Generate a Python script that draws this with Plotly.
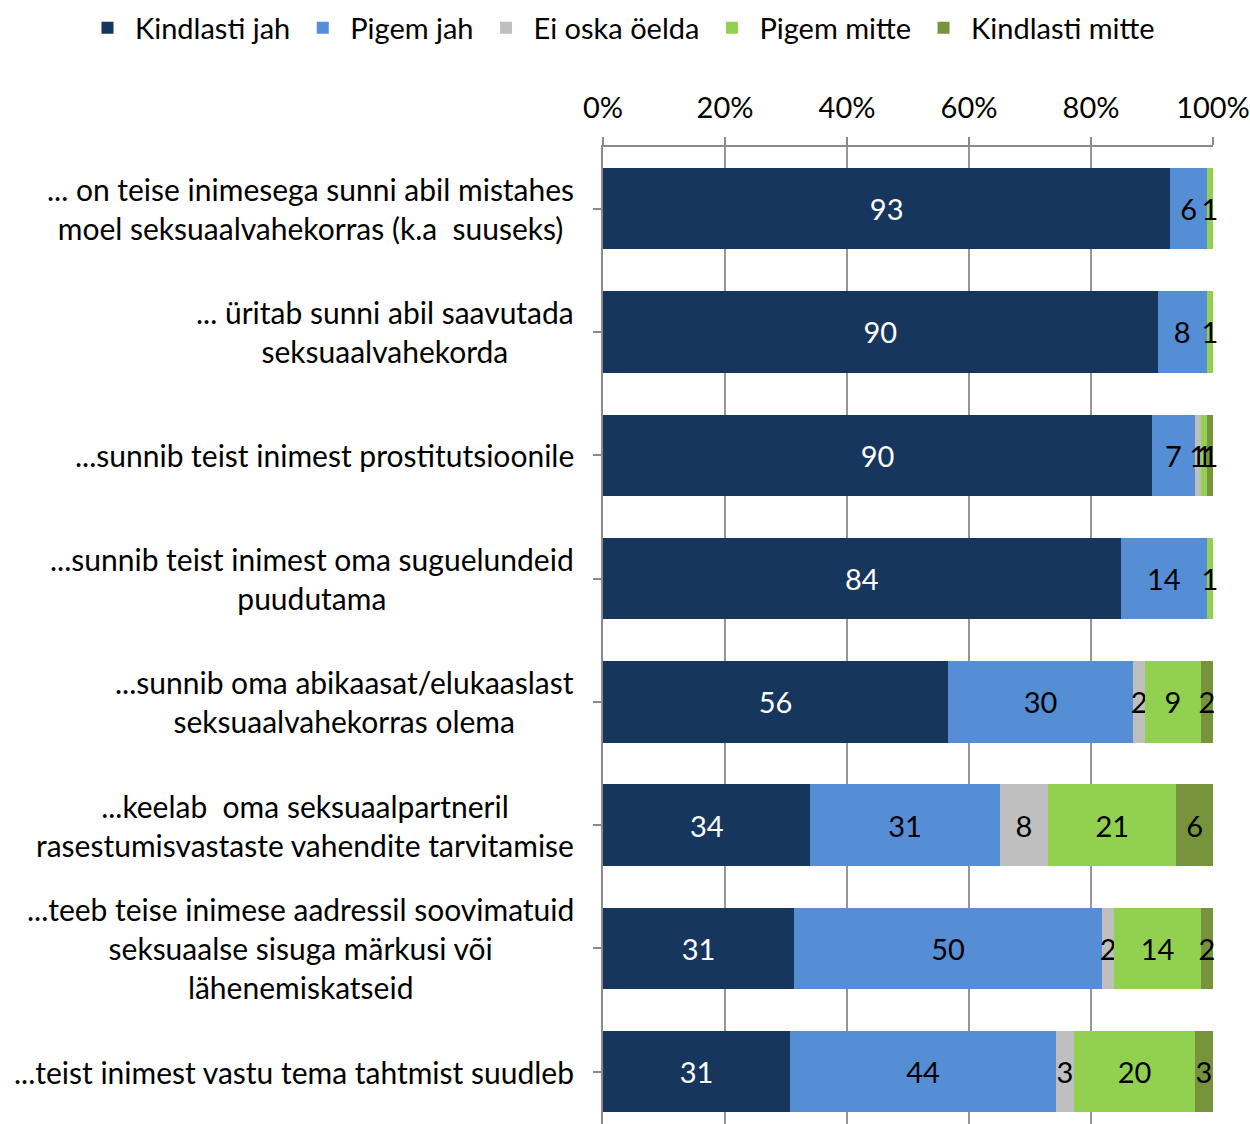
import plotly.graph_objects as go

categories = [
    "... on teise inimesega sunni abil mistahes<br>moel seksuaalvahekorras (k.a  suuseks)",
    "... üritab sunni abil saavutada<br>seksuaalvahekorda",
    "...sunnib teist inimest prostitutsioonile",
    "...sunnib teist inimest oma suguelundeid<br>puudutama",
    "...sunnib oma abikaasat/elukaaslast<br>seksuaalvahekorras olema",
    "...keelab  oma seksuaalpartneril<br>rasestumisvastaste vahendite tarvitamise",
    "...teeb teise inimese aadressil soovimatuid<br>seksuaalse sisuga märkusi või<br>lähenemiskatseid",
    "...teist inimest vastu tema tahtmist suudleb",
]

series_names = ["Kindlasti jah", "Pigem jah", "Ei oska öelda", "Pigem mitte", "Kindlasti mitte"]
kindlasti_jah = [93, 90, 90, 84, 56, 34, 31, 31]
pigem_jah = [6, 8, 7, 14, 30, 31, 50, 44]
ei_oska = [0, 0, 1, 0, 2, 8, 2, 3]
pigem_mitte = [1, 1, 1, 1, 9, 21, 14, 20]
kindlasti_mitte = [0, 0, 1, 0, 2, 6, 2, 3]
series_values = [kindlasti_jah, pigem_jah, ei_oska, pigem_mitte, kindlasti_mitte]

colors = ["#17365D", "#558ED5", "#BFBFBF", "#92D050", "#77933C"]
text_colors = ["white", "black", "black", "black", "black"]
tick_vals = [0, 20, 40, 60, 80, 100]
tick_text = ["0%", "20%", "40%", "60%", "80%", "100%"]

FONT = "Lato"
FS_CAT = 30
FS = 29

idx = list(range(len(categories)))

fig = go.Figure()
for name, vals, col, tcol in zip(series_names, series_values, colors, text_colors):
    fig.add_trace(go.Bar(
        name=name,
        y=idx,
        x=vals,
        orientation="h",
        marker=dict(color=col, line=dict(width=0)),
        text=[str(v) if v else "" for v in vals],
        textposition="inside",
        insidetextanchor="middle",
        textangle=0,
        constraintext="none",
        textfont=dict(color=tcol, size=FS, family=FONT),
        cliponaxis=False,
        hoverinfo="skip",
    ))

for i, cat in enumerate(categories):
    fig.add_annotation(
        x=-0.045, xref="paper", y=i, yref="y",
        text=cat, showarrow=False, xanchor="right", yanchor="middle",
        align="center", font=dict(size=FS_CAT, family=FONT, color="black"),
    )

W, H = 1250, 1124
L, R, T, B = 603, 37, 147, 0
pw = W - L - R
ph = H - T - B
span = ph / 123.3

fig.update_layout(
    width=W, height=H,
    margin=dict(l=L, r=R, t=T, b=B, autoexpand=False),
    barmode="stack",
    barnorm="percent",
    bargap=0.34,
    plot_bgcolor="white",
    paper_bgcolor="white",
    font=dict(family=FONT, size=FS, color="black"),
    uniformtext=dict(mode="show", minsize=FS),
    legend=dict(
        orientation="h", x=(80 - L) / pw, xanchor="left",
        y=1 + (T - 28) / ph, yanchor="middle",
        font=dict(size=FS, family=FONT), traceorder="normal",
        itemclick=False, itemsizing="constant", itemwidth=45,
    ),
    xaxis=dict(
        side="top", range=[0, 100], tickvals=tick_vals, ticktext=tick_text,
        showgrid=True, gridcolor="#969696", gridwidth=2,
        showline=True, linecolor="#8a8a8a", linewidth=2,
        ticks="outside", ticklen=8, tickcolor="#8a8a8a", tickwidth=2,
        ticklabelstandoff=7,
        zeroline=False, fixedrange=True,
        tickfont=dict(size=FS, family=FONT),
    ),
    yaxis=dict(
        range=[-0.5 + span, -0.5],
        tickvals=idx, showticklabels=False,
        tickson="boundaries", ticks="outside", ticklen=8,
        tickcolor="#8a8a8a", tickwidth=2,
        showline=True, linecolor="#8a8a8a", linewidth=2,
        showgrid=False, zeroline=False, fixedrange=True, automargin=False,
    ),
)

fig.write_html(
    "out.html",
    config={"displayModeBar": False},
    post_script="document.body.style.margin='0';document.body.style.overflow='hidden';",
)
